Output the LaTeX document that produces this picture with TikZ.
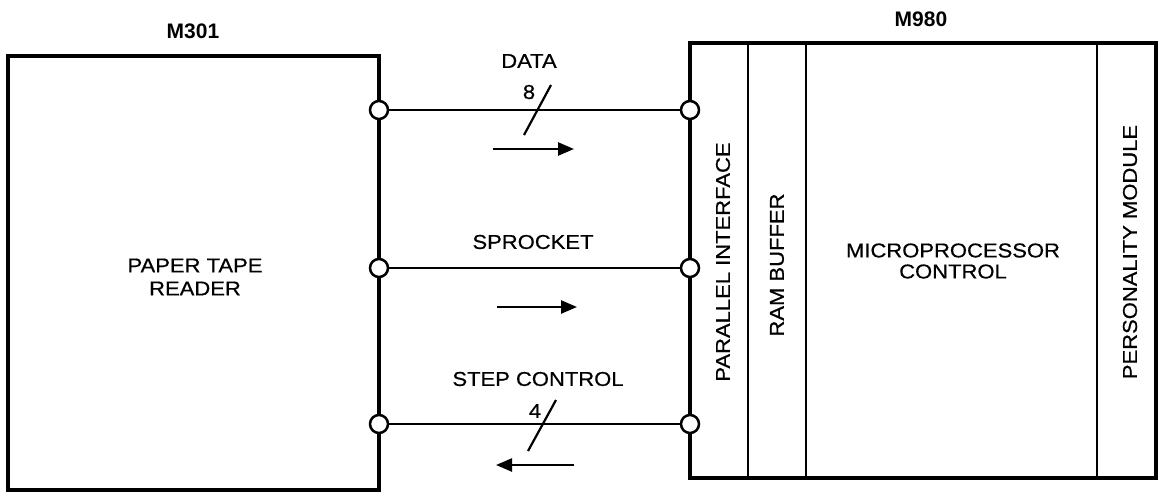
\documentclass[tikz,border=0pt]{standalone}
\usepackage{fontspec}
\setmainfont{Liberation Sans}
\newfontfamily\labfont[FakeStretch=1.1,FakeBold=0.6]{Liberation Sans}
\usetikzlibrary{arrows.meta}
\tikzset{
  unitbox/.style={draw, line width=4pt, rectangle, inner sep=0pt},
  divider/.style={line width=2pt},
  port/.style={circle, draw, fill=white, line width=2.5pt, minimum size=18pt, inner sep=0pt},
  wire/.style={line width=2pt},
  busslash/.style={line width=2.2pt},
  flow/.style={line width=2.5pt, -{Triangle[length=16pt,width=13pt]}},
  lbl/.style={font=\labfont\fontsize{20}{20}\selectfont, inner sep=0pt},
  title/.style={font=\fontsize{21}{21}\selectfont\bfseries, inner sep=0pt}
}
\begin{document}
\begin{tikzpicture}[x=1pt,y=-1pt]
\useasboundingbox (0,0) rectangle (1164,496);
% boxes
\node[unitbox, minimum width=371pt, minimum height=434pt] (m301) at (193.5,273) {};
\node[unitbox, minimum width=466pt, minimum height=435pt] (m980) at (923,260.5) {};
% dividers inside M980
\draw[divider] (748,43) -- (748,478);
\draw[divider] (806,43) -- (806,478);
\draw[divider] (1097,43) -- (1097,478);
% titles
\node[title] (t301) at (193,31) {M301};
\node[title] (t980) at (921,19) {M980};
% box texts
\node[lbl, align=center] (ptr) at (195,277) {PAPER TAPE\\[3pt]READER};
\node[lbl, align=center] (mpc) at (953,261) {MICROPROCESSOR\\[1pt]CONTROL};
\node[lbl, rotate=90] (pif) at (723,262) {PARALLEL INTERFACE};
\node[lbl, rotate=90] (ram) at (777,265) {RAM BUFFER};
\node[lbl, rotate=90] (pmod) at (1130,252) {PERSONALITY MODULE};
% ports
\node[port] (l1) at (379,110) {};
\node[port] (r1) at (690,110) {};
\node[port] (l2) at (379,268) {};
\node[port] (r2) at (690,268) {};
\node[port] (l3) at (379,424) {};
\node[port] (r3) at (690,424) {};
% connectors
\draw[wire] (l1) -- (r1);
\draw[wire] (l2) -- (r2);
\draw[wire] (l3) -- (r3);
% labels
\node[lbl] (ldata) at (529,61) {DATA};
\node[lbl] (lspr) at (533,242) {SPROCKET};
\node[lbl] (lstep) at (538,379) {STEP CONTROL};
\node[lbl] (n8) at (529,92) {8};
\node[lbl] (n4) at (535,411) {4};
% bus slashes
\draw[busslash] (524,135) -- (551,85);
\draw[busslash] (528,451) -- (556,400);
% direction arrows
\coordinate (a1s) at (493,149); \coordinate (a1e) at (574,149);
\coordinate (a2s) at (497,307); \coordinate (a2e) at (577,307);
\coordinate (a3s) at (574,465); \coordinate (a3e) at (496,465);
\draw[flow] (a1s) -- (a1e);
\draw[flow] (a2s) -- (a2e);
\draw[flow] (a3s) -- (a3e);
\end{tikzpicture}
\end{document}
